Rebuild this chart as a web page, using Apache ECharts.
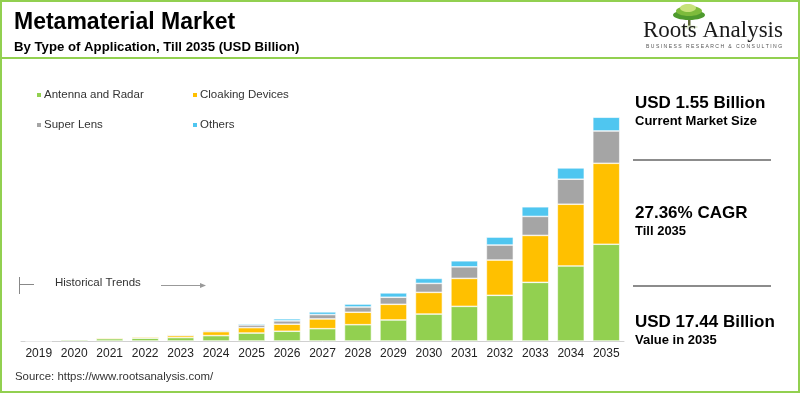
<!DOCTYPE html>
<html><head><meta charset="utf-8">
<script src="https://cdn.jsdelivr.net/npm/echarts@6/dist/echarts.min.js"></script>
<style>html,body{margin:0;padding:0;background:#fff;}#c{width:800px;height:393px;}</style>
</head><body><div id="c"></div>
<script>
const years = ['2019','2020','2021','2022','2023','2024','2025','2026','2027','2028','2029','2030','2031','2032','2033','2034','2035'];
const antennaRadar = [0.02,0.10,0.18,0.22,0.27,0.42,0.62,0.76,0.96,1.27,1.64,2.10,2.70,3.56,4.57,5.85,7.54];
const cloakingDevices = [0.01,0.02,0.08,0.10,0.16,0.31,0.42,0.55,0.76,0.97,1.22,1.69,2.18,2.75,3.66,4.81,6.31];
const superLens = [0.005,0.005,0.02,0.03,0.07,0.10,0.21,0.26,0.34,0.41,0.55,0.70,0.90,1.17,1.48,1.95,2.52];
const others = [0.005,0.005,0.01,0.02,0.03,0.05,0.10,0.16,0.21,0.23,0.34,0.39,0.47,0.62,0.75,0.88,1.07];
const seriesNames = ['Antenna and Radar','Cloaking Devices','Super Lens','Others'];
const colors = ['#92D050','#FFC000','#A5A5A5','#4FC6F0'];

const chart = echarts.init(document.getElementById('c'));
const FONT = '"Liberation Sans", Arial, sans-serif';
const mk = (name, data, i) => ({
  name, type:'bar', stack:'total', data, barWidth:'76%',
  itemStyle:{color:colors[i], borderColor:'#fff', borderWidth:0.6},
  emphasis:{disabled:true}
});
const txt = (x,y,text,size,weight,color,fam) => ({type:'text', left:x, top:y, style:{text, font: (weight||'normal')+' '+size+'px '+(fam||FONT), fill:color||'#000'}});
const legendText = {color:'#333', fontSize:11.5, fontFamily:FONT, padding:[0,0,0,-3]};

chart.setOption({
  animation:false,
  backgroundColor:'#fff',
  grid:{left:21, right:176, top:84.4, bottom:52},
  xAxis:{type:'category', data:years,
    axisLine:{lineStyle:{color:'#d0d0d0', width:1}}, axisTick:{show:false},
    axisLabel:{color:'#222', fontSize:12, fontFamily:FONT, margin:7, interval:0}},
  yAxis:{type:'value', min:0, max:20, show:false, splitLine:{show:false}},
  legend:[
    {data:['Antenna and Radar','Super Lens'], orient:'vertical', left:30, top:84, itemGap:18, itemWidth:6, itemHeight:6, icon:'rect',
     textStyle:legendText, selectedMode:false},
    {data:['Cloaking Devices','Others'], orient:'vertical', left:186, top:84, itemGap:18, itemWidth:6, itemHeight:6, icon:'rect',
     textStyle:legendText, selectedMode:false}
  ],
  series:[mk(seriesNames[0],antennaRadar,0), mk(seriesNames[1],cloakingDevices,1), mk(seriesNames[2],superLens,2), mk(seriesNames[3],others,3)],
  graphic:[
    {type:'rect', shape:{x:1,y:1,width:798,height:391}, style:{fill:'none', stroke:'#92D050', lineWidth:2}, silent:true},
    {type:'line', shape:{x1:0,y1:58,x2:800,y2:58}, style:{stroke:'#92D050', lineWidth:2}},
    txt(14,11,'Metamaterial Market',23,'bold','#000'),
    txt(14,41,'By Type of Application, Till 2035 (USD Billion)',13.2,'bold','#000'),
    {type:'group', left:673, top:4, children:[
      {type:'rect', shape:{x:15,y:10,width:2.5,height:12}, style:{fill:'#5c6b35'}},
      {type:'ellipse', shape:{cx:16,cy:11,rx:16,ry:5}, style:{fill:'#4e9a2e'}},
      {type:'ellipse', shape:{cx:16,cy:7,rx:13,ry:5}, style:{fill:'#7dbb3c'}},
      {type:'ellipse', shape:{cx:15,cy:4,rx:8,ry:4}, style:{fill:'#c7e27a'}},
      {type:'ellipse', shape:{cx:16,cy:23,rx:9,ry:1.5}, style:{fill:'#d9e6c8'}}
    ]},
    txt(643,19,'Roots Analysis',23,'normal','#1a1a1a','"Liberation Serif", "DejaVu Serif", serif'),
    txt(646,44,'B U S I N E S S   R E S E A R C H   &   C O N S U L T I N G',5.1,'normal','#555'),
    txt(635,95,'USD 1.55 Billion',17,'bold','#000'),
    txt(635,115,'Current Market Size',13,'bold','#000'),
    {type:'line', shape:{x1:633,y1:160,x2:771,y2:160}, style:{stroke:'#8c8c8c', lineWidth:2}},
    txt(635,205,'27.36% CAGR',17,'bold','#000'),
    txt(635,225,'Till 2035',13,'bold','#000'),
    {type:'line', shape:{x1:633,y1:286,x2:771,y2:286}, style:{stroke:'#8c8c8c', lineWidth:2}},
    txt(635,314,'USD 17.44 Billion',17,'bold','#000'),
    txt(635,334,'Value in 2035',13,'bold','#000'),
    {type:'line', shape:{x1:19.5,y1:277,x2:19.5,y2:294}, style:{stroke:'#888', lineWidth:1}},
    {type:'line', shape:{x1:19.5,y1:284.5,x2:34,y2:284.5}, style:{stroke:'#888', lineWidth:1}},
    txt(55,277,'Historical Trends',11.5,'normal','#333'),
    {type:'line', shape:{x1:161,y1:285.5,x2:204,y2:285.5}, style:{stroke:'#999', lineWidth:1}},
    {type:'polygon', shape:{points:[[206,285.5],[200,283],[200,288]]}, style:{fill:'#999'}},
    txt(15,371,'Source: https://www.rootsanalysis.com/',11.4,'normal','#333')
  ]
});
</script></body></html>
